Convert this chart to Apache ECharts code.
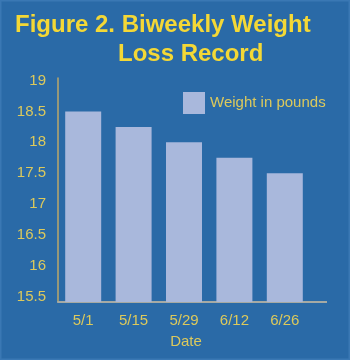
<!DOCTYPE html>
<html>
<head>
<meta charset="utf-8">
<script src="https://cdn.jsdelivr.net/npm/echarts@6/dist/echarts.min.js"></script>
<style>
html,body{margin:0;padding:0;background:#2a6aa7;}
#c{width:350px;height:360px;}
</style>
</head>
<body>
<div id="c"></div>
<script>
var titleLine1 = 'Figure 2. Biweekly Weight';
var titleLine2 = 'Loss Record';
var categories = ['5/1', '5/15', '5/29', '6/12', '6/26'];
var seriesName = 'Weight in pounds';
var weights = [18.5, 18.25, 18, 17.75, 17.5];
var yTickLabels = [15.5, 16, 16.5, 17, 17.5, 18, 18.5, 19];
var xAxisName = 'Date';

var chart = echarts.init(document.getElementById('c'), null, {renderer: 'canvas'});
var labelColor = '#dcc95c';
var font = '"Liberation Sans", Arial, sans-serif';
var titleStyle = {color: '#f4d836', fontSize: 24, fontWeight: 'bold', fontFamily: '"Liberation Sans", Arial, sans-serif'};
var option = {
  backgroundColor: '#2a6aa7',
  animation: false,
  title: [
    {text: titleLine1, left: 15, top: 13, padding: 0, textStyle: titleStyle},
    {text: titleLine2, left: 118, top: 42, padding: 0, textStyle: titleStyle}
  ],
  legend: {
    data: [seriesName], left: 183, top: 92, padding: 0, icon: 'rect', itemWidth: 22, itemHeight: 22, itemGap: 5,
    textStyle: {color: labelColor, fontSize: 15, fontFamily: font}
  },
  grid: {left: 58, right: 40, top: 78, bottom: 58},
  xAxis: {
    type: 'category', data: categories,
    axisLine: {lineStyle: {color: '#a6aaa4', width: 2}},
    axisTick: {show: false},
    axisLabel: {color: labelColor, fontSize: 15, margin: 11, fontFamily: font},
    name: xAxisName, nameLocation: 'middle', nameGap: 32,
    nameTextStyle: {color: labelColor, fontSize: 15, fontFamily: font, padding: [0, 0, 0, 4]}
  },
  yAxis: {
    type: 'value', min: 15.42, max: 19.04,
    axisLine: {show: true, lineStyle: {color: '#bca968', width: 1.5}},
    axisTick: {show: false},
    splitLine: {show: false},
    axisLabel: {color: labelColor, fontSize: 15, margin: 12, fontFamily: font, customValues: yTickLabels}
  },
  series: [{
    name: seriesName, type: 'bar', data: weights, barWidth: 36,
    itemStyle: {color: '#a9b8dc'}
  }]
};
chart.setOption(option);
var y0 = chart.convertToPixel({yAxisIndex: 0}, 15.42);
chart.setOption({
  graphic: [
    {type: 'line', shape: {x1: 308, y1: y0, x2: 327, y2: y0}, style: {stroke: '#a6aaa4', lineWidth: 2}, z: 10},
    {type: 'rect', shape: {x: 0, y: 0, width: 350, height: 360}, style: {fill: 'none', stroke: '#3a78b4', lineWidth: 3}, z: 10}
  ]
});
</script>
</body>
</html>
